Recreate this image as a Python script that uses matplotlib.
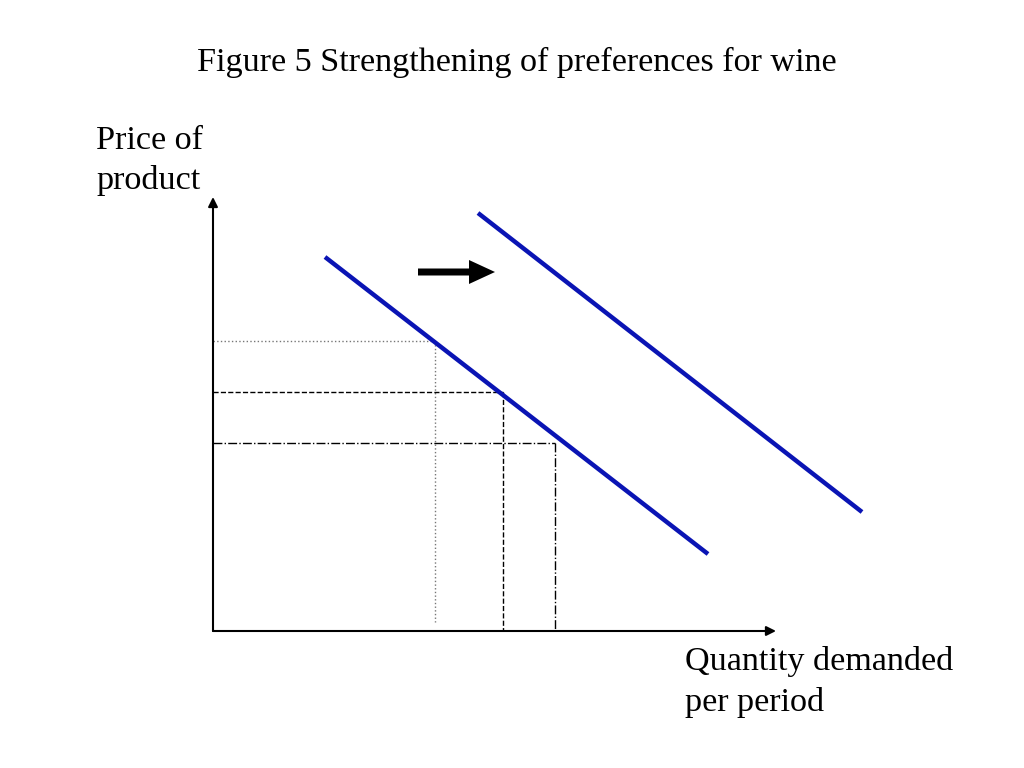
import matplotlib
matplotlib.use("Agg")
import matplotlib.pyplot as plt

# diagram coordinates (pixels of the 1024x768 slide, y downward)
origin = (213, 631)
y_axis_top = 197
x_axis_right = 776

demand_old_x = [325, 708]
demand_old_y = [257, 554]
demand_new_x = [478, 862]
demand_new_y = [213, 512]

shift_arrow_x = [418, 495]
shift_arrow_y = 272

# equilibrium guides
guide_q = [435, 503, 555]
guide_p = [341, 392, 443]
guide_bottom = [622, 631, 631]
guide_styles = [":", "--", "-."]
guide_colors = ["#777777", "black", "black"]

plt.rcParams["font.family"] = ["Liberation Serif", "DejaVu Serif"]

fig = plt.figure(figsize=(10.24, 7.68), dpi=100)
ax = fig.add_axes([0, 0, 1, 1])
ax.set_xlim(0, 1024)
ax.set_ylim(768, 0)
ax.axis("off")

# axes with arrowheads
ax.annotate("", xy=(origin[0], y_axis_top), xytext=origin,
            arrowprops=dict(arrowstyle="-|>", color="black", lw=1.5,
                            mutation_scale=14, shrinkA=0, shrinkB=0))
ax.annotate("", xy=(x_axis_right, origin[1]), xytext=origin,
            arrowprops=dict(arrowstyle="-|>", color="black", lw=1.5,
                            mutation_scale=14, shrinkA=0, shrinkB=0))

# guide lines
for q, p, b, ls, c in zip(guide_q, guide_p, guide_bottom, guide_styles, guide_colors):
    ax.plot([origin[0], q], [p, p], ls=ls, color=c, lw=1)
    ax.plot([q, q], [p, b], ls=ls, color=c, lw=1)

# demand curves
ax.plot(demand_old_x, demand_old_y, color="#0A14B4", lw=3.2, solid_capstyle="butt")
ax.plot(demand_new_x, demand_new_y, color="#0A14B4", lw=3.2, solid_capstyle="butt")

# shift arrow
ax.arrow(shift_arrow_x[0], shift_arrow_y, shift_arrow_x[1] - shift_arrow_x[0], 0,
         width=7, head_width=24, head_length=26, length_includes_head=True,
         color="black", lw=0)

ax.text(517, 62, "Figure 5 Strengthening of preferences for wine", fontsize=24.6,
        ha="center", va="center")
ax.text(96, 161, "Price of\nproduct", fontsize=24.6, ha="left", va="center", linespacing=1.38)
ax.text(685, 682, "Quantity demanded\nper period", fontsize=24.6, ha="left", va="center",
        linespacing=1.38)

fig.savefig("out.png", dpi=100)
